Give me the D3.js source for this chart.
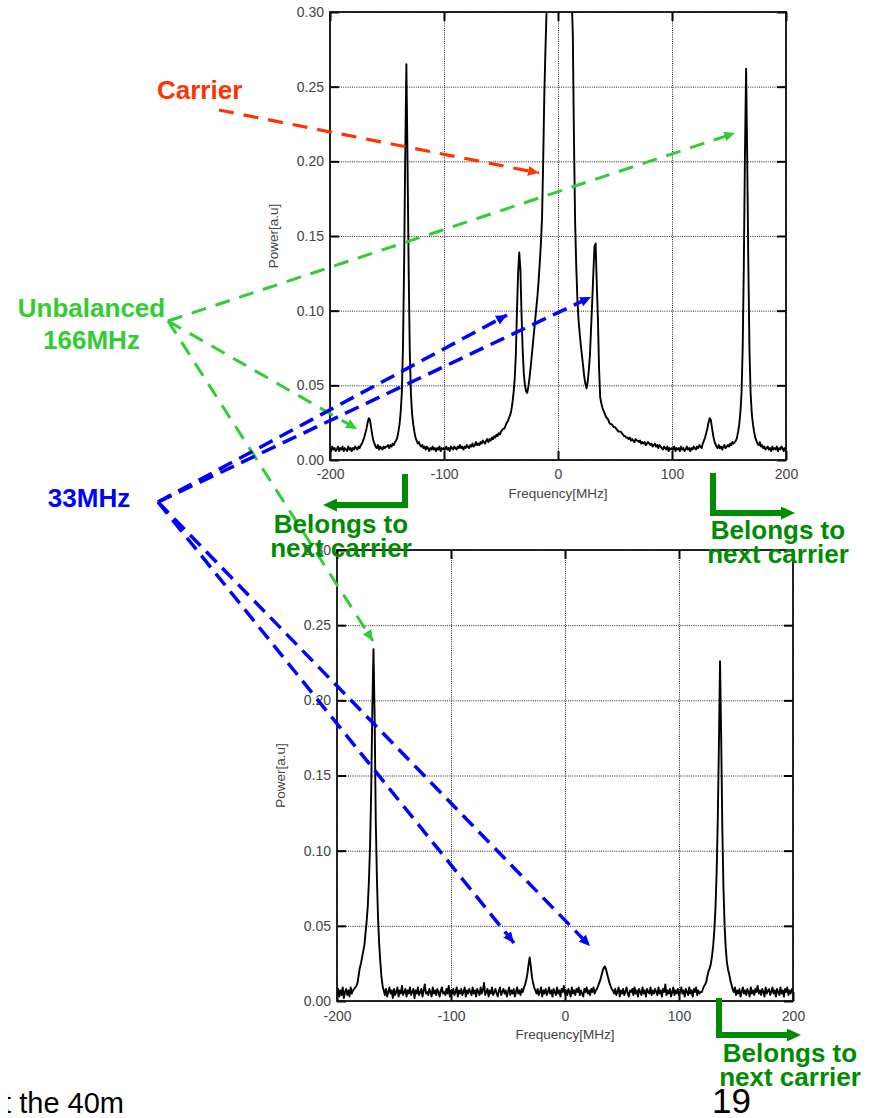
<!DOCTYPE html>
<html>
<head>
<meta charset="utf-8">
<script src="https://cdn.jsdelivr.net/npm/d3@7"></script>
<style>
  body { margin: 0; background: #fff; }
  svg { display: block; }
</style>
</head>
<body>
<div id="main"></div>
<script>
// measured spectra, power in thousandths of a.u., one value per MHz from -200 to 200
var topPower = [
  8, 6, 9, 7, 8, 6, 7, 9, 6, 8,
  7, 9, 6, 8, 7, 6, 9, 7, 8, 6,
  8, 7, 9, 8, 7, 9, 8, 10, 11, 13,
  15, 18, 21, 25, 28, 27, 22, 17, 13, 11,
  9, 8, 10, 7, 9, 8, 7, 9, 8, 9,
  9, 10, 8, 10, 9, 11, 10, 12, 13, 15,
  19, 24, 32, 45, 75, 130, 205, 265, 200, 128,
  72, 44, 31, 24, 19, 15, 13, 11, 12, 10,
  9, 10, 8, 9, 7, 9, 8, 6, 8, 7,
  9, 7, 8, 6, 8, 7, 9, 6, 8, 7,
  8, 7, 9, 7, 8, 6, 9, 8, 7, 9,
  8, 7, 9, 8, 10, 8, 9, 7, 9, 8,
  10, 9, 8, 10, 9, 11, 9, 10, 12, 10,
  11, 10, 12, 11, 13, 12, 11, 13, 14, 12,
  14, 13, 15, 14, 16, 15, 17, 16, 18, 17,
  19, 20, 21, 21, 23, 25, 26, 28, 30, 33,
  38, 45, 54, 70, 100, 125, 139, 128, 98, 74,
  58, 50, 46, 45, 49, 55, 62, 70, 78, 86,
  94, 102, 110, 120, 132, 145, 162, 200, 245, 275,
  302, 340, 390, 450, 520, 600, 700, 800, 900, 980,
  1000, 990, 950, 880, 800, 720, 640, 560, 490, 430,
  380, 340, 310, 285, 215, 160, 130, 108, 94, 85,
  77, 70, 63, 56, 51, 48, 52, 60, 70, 88,
  106, 125, 143, 145, 118, 95, 62, 42, 38, 35,
  33, 31, 29, 28, 27, 25, 24, 24, 23, 22,
  22, 21, 20, 19, 19, 19, 18, 17, 16, 16,
  15, 15, 14, 15, 13, 14, 13, 12, 14, 13,
  13, 12, 13, 11, 12, 11, 12, 10, 11, 12,
  11, 10, 11, 9, 10, 11, 9, 10, 8, 10,
  9, 8, 7, 9, 8, 7, 9, 6, 8, 7,
  8, 7, 9, 6, 8, 7, 8, 6, 9, 7,
  8, 6, 7, 9, 7, 8, 6, 8, 7, 9,
  8, 7, 9, 8, 10, 9, 8, 11, 13, 15,
  18, 21, 25, 28, 27, 22, 17, 13, 11, 9,
  8, 10, 8, 9, 7, 9, 10, 8, 9, 10,
  9, 11, 10, 12, 11, 12, 13, 15, 19, 24,
  32, 45, 75, 130, 205, 262, 200, 128, 72, 44,
  31, 24, 19, 15, 13, 11, 10, 12, 9, 10,
  8, 9, 7, 8, 9, 7, 8, 6, 9, 7,
  8, 7, 9, 6, 8, 7, 9, 8, 6, 8, 7
];
var bottomPower = [
  5, 8, 3, 7, 4, 9, 2, 6, 8, 4,
  7, 3, 9, 5, 7, 8, 9, 10, 12, 17,
  22, 25, 29, 33, 37, 45, 53, 63, 80, 103,
  140, 195, 234, 190, 120, 82, 55, 38, 26, 16,
  10, 7, 4, 8, 3, 6, 9, 5, 7, 2,
  8, 4, 6, 9, 3, 7, 5, 10, 4, 6,
  8, 3, 7, 5, 9, 4, 6, 8, 2, 7,
  5, 9, 4, 6, 8, 3, 7, 11, 5, 6,
  4, 8, 6, 3, 9, 5, 7, 4, 8, 6,
  3, 7, 9, 5, 6, 4, 8, 5, 10, 3,
  7, 5, 8, 4, 6, 9, 3, 7, 5, 8,
  4, 6, 9, 3, 7, 5, 8, 6, 4, 9,
  5, 7, 3, 8, 6, 4, 9, 5, 7, 12,
  4, 6, 8, 3, 7, 5, 9, 4, 6, 8,
  5, 3, 7, 9, 4, 6, 8, 5, 7, 3,
  6, 9, 4, 7, 5, 8, 3, 6, 9, 5,
  7, 4, 8, 6, 9, 11, 14, 18, 24, 29,
  23, 16, 12, 9, 7, 5, 8, 4, 6, 9,
  3, 7, 5, 8, 4, 6, 9, 5, 7, 3,
  8, 6, 4, 9, 5, 7, 3, 8, 6, 10,
  5, 7, 4, 8, 6, 3, 9, 5, 7, 4,
  8, 6, 9, 4, 7, 5, 3, 8, 6, 9,
  5, 7, 4, 8, 6, 9, 5, 7, 8, 10,
  12, 14, 17, 20, 22, 23, 21, 18, 15, 12,
  10, 8, 7, 5, 8, 4, 6, 9, 3, 7,
  5, 8, 4, 6, 9, 5, 3, 7, 6, 8,
  4, 9, 5, 7, 3, 8, 6, 4, 9, 5,
  7, 3, 8, 6, 5, 9, 4, 7, 5, 8,
  6, 4, 9, 5, 7, 3, 8, 6, 11, 4,
  7, 5, 8, 3, 6, 9, 4, 7, 5, 8,
  4, 6, 9, 5, 7, 3, 8, 6, 4, 9,
  5, 7, 3, 8, 6, 9, 4, 7, 5, 6,
  6, 8, 10, 11, 13, 17, 20, 22, 25, 30,
  37, 47, 62, 85, 120, 170, 226, 175, 115, 75,
  50, 35, 26, 21, 18, 14, 11, 8, 6, 9,
  4, 7, 5, 8, 3, 6, 9, 5, 7, 4,
  8, 6, 3, 9, 5, 7, 4, 8, 6, 10,
  5, 7, 4, 8, 6, 3, 9, 5, 7, 8,
  4, 6, 9, 5, 7, 3, 8, 6, 4, 9,
  5, 7, 3, 8, 6, 9, 4, 7, 5, 8, 6
];
var freqs = d3.range(-200, 201);           // MHz
var xTicks = [-200, -100, 0, 100, 200];
var yTicks = [0, 0.05, 0.10, 0.15, 0.20, 0.25, 0.30];

var font = "'Liberation Sans', Arial, Helvetica, sans-serif";
var W = 872, H = 1118;

var svg = d3.select("#main").append("svg")
    .attr("width", W)
    .attr("height", H);

var defs = svg.append("defs");

function arrowMarker(id, color, len, wid) {
  defs.append("marker")
      .attr("id", id)
      .attr("markerUnits", "userSpaceOnUse")
      .attr("viewBox", "0 0 " + len + " " + wid)
      .attr("refX", len)
      .attr("refY", wid / 2)
      .attr("markerWidth", len)
      .attr("markerHeight", wid)
      .attr("orient", "auto")
      .append("path")
      .attr("d", "M0,0L" + len + "," + (wid / 2) + "L0," + wid + "Z")
      .attr("fill", color);
}
var red = "#ff3300", lime = "#33cc33", blue = "#0000ff", dkgreen = "#008c00";
arrowMarker("headRed", red, 11, 10);
arrowMarker("headLime", lime, 11, 10);
arrowMarker("headBlue", blue, 11, 10);
// thick L arrows: head starts where the path ends
defs.append("marker")
    .attr("id", "headDk")
    .attr("markerUnits", "userSpaceOnUse")
    .attr("viewBox", "0 0 14 13")
    .attr("refX", 0).attr("refY", 6.5)
    .attr("markerWidth", 14).attr("markerHeight", 13)
    .attr("orient", "auto")
    .append("path").attr("d", "M0,0L14,6.5L0,13Z").attr("fill", dkgreen);

var panels = [
  { name: "top", values: topPower, left: 330, right: 786, top: 12, bottom: 460, tickPad: 9 },
  { name: "bottom", values: bottomPower, left: 337, right: 793, top: 550, bottom: 1001, tickPad: 10 }
];

panels.forEach(function(p) {
  var x = d3.scaleLinear().domain([-200, 200]).range([p.left, p.right]);
  var y = d3.scaleLinear().domain([0, 0.3]).range([p.bottom, p.top]);
  var g = svg.append("g");
  var h = p.bottom - p.top, w = p.right - p.left;

  // dotted grid
  g.append("g")
      .attr("transform", "translate(0," + p.bottom + ")")
      .call(d3.axisBottom(x).tickValues(xTicks).tickSize(-h).tickFormat(""))
      .call(function(s) { s.select(".domain").remove(); })
      .selectAll("line").attr("stroke", "#222").attr("stroke-dasharray", "1,1.2");
  g.append("g")
      .attr("transform", "translate(" + p.left + ",0)")
      .call(d3.axisLeft(y).tickValues(yTicks).tickSize(-w).tickFormat(""))
      .call(function(s) { s.select(".domain").remove(); })
      .selectAll("line").attr("stroke", "#222").attr("stroke-dasharray", "1,1.2");

  // inward tick marks on all four sides
  var inner = [
    [d3.axisBottom(x).tickValues(xTicks), "translate(0," + p.bottom + ")"],
    [d3.axisTop(x).tickValues(xTicks), "translate(0," + p.top + ")"],
    [d3.axisLeft(y).tickValues(yTicks), "translate(" + p.left + ",0)"],
    [d3.axisRight(y).tickValues(yTicks), "translate(" + p.right + ",0)"]
  ];
  inner.forEach(function(a) {
    g.append("g").attr("transform", a[1])
        .call(a[0].tickSize(-9).tickFormat(""))
        .call(function(s) { s.select(".domain").remove(); })
        .selectAll("line").attr("stroke", "#000").attr("stroke-width", 2);
  });

  // spectrum
  var clipId = "clip-" + p.name;
  defs.append("clipPath").attr("id", clipId)
      .append("rect").attr("x", p.left).attr("y", p.top).attr("width", w).attr("height", h);
  var line = d3.line()
      .x(function(d, i) { return x(freqs[i]); })
      .y(function(d) { return y(d / 1000); });
  g.append("path")
      .datum(p.values)
      .attr("clip-path", "url(#" + clipId + ")")
      .attr("d", line)
      .attr("fill", "none")
      .attr("stroke", "#000")
      .attr("stroke-width", 1.9)
      .attr("stroke-linejoin", "round");

  // frame
  g.append("rect")
      .attr("x", p.left).attr("y", p.top).attr("width", w).attr("height", h)
      .attr("fill", "none").attr("stroke", "#111").attr("stroke-width", 1.8);

  // tick labels
  var yl = g.append("g")
      .attr("transform", "translate(" + p.left + ",0)")
      .call(d3.axisLeft(y).tickValues(yTicks).tickSize(0).tickPadding(6).tickFormat(d3.format(".2f")));
  var xl = g.append("g")
      .attr("transform", "translate(0," + p.bottom + ")")
      .call(d3.axisBottom(x).tickValues(xTicks).tickSize(0).tickPadding(p.tickPad).tickFormat(d3.format("d")));
  [yl, xl].forEach(function(s) {
    s.select(".domain").remove();
    s.selectAll("text").attr("font-family", font).attr("font-size", 14).attr("fill", "#444");
  });
  // minus sign as plain hyphen like the original
  xl.selectAll("text").text(function(d) { return String(d); });

  g.append("text")
      .attr("x", (p.left + p.right) / 2)
      .attr("y", p.bottom + 38)
      .attr("text-anchor", "middle")
      .attr("font-family", font).attr("font-size", 13.5).attr("fill", "#444")
      .text("Frequency[MHz]");
  g.append("text")
      .attr("transform", "translate(" + (p.left - 52) + "," + ((p.top + p.bottom) / 2) + ") rotate(-90)")
      .attr("text-anchor", "middle")
      .attr("font-family", font).attr("font-size", 13.5).attr("fill", "#444")
      .text("Power[a.u]");
});

// dashed pointer arrows
var pointers = [
  { from: [219, 110], to: [539, 173], color: red, head: "headRed", width: 3.2, dash: "15,10" },
  { from: [168, 321], to: [735, 133], color: lime, head: "headLime", width: 3, dash: "15,10" },
  { from: [168, 321], to: [357, 429], color: lime, head: "headLime", width: 3, dash: "15,10" },
  { from: [168, 321], to: [373, 641], color: lime, head: "headLime", width: 3, dash: "15,10" },
  { from: [158, 502], to: [507, 315], color: blue, head: "headBlue", width: 3.5, dash: "15,8" },
  { from: [158, 502], to: [591, 297], color: blue, head: "headBlue", width: 3.5, dash: "15,8" },
  { from: [158, 502], to: [514, 943], color: blue, head: "headBlue", width: 3.5, dash: "15,8" },
  { from: [158, 502], to: [590, 946], color: blue, head: "headBlue", width: 3.5, dash: "15,8" }
];
svg.append("g").selectAll("line")
    .data(pointers)
    .enter()
    .append("line")
    .attr("x1", function(d) { return d.from[0]; })
    .attr("y1", function(d) { return d.from[1]; })
    .attr("x2", function(d) { return d.to[0]; })
    .attr("y2", function(d) { return d.to[1]; })
    .attr("stroke", function(d) { return d.color; })
    .attr("stroke-width", function(d) { return d.width; })
    .attr("stroke-dasharray", function(d) { return d.dash; })
    .attr("marker-end", function(d) { return "url(#" + d.head + ")"; });

// "belongs to next carrier" L-shaped arrows
var elbows = [
  [[405, 474], [405, 505], [337, 505]],
  [[713, 473], [713, 513], [781, 513]],
  [[719, 998], [719, 1035], [787, 1035]]
];
svg.append("g").selectAll("path")
    .data(elbows)
    .enter()
    .append("path")
    .attr("d", function(d) { return d3.line()(d); })
    .attr("fill", "none")
    .attr("stroke", dkgreen)
    .attr("stroke-width", 6)
    .attr("stroke-linejoin", "miter")
    .attr("marker-end", "url(#headDk)");

// labels
var labels = [
  { t: "Carrier", x: 157, y: 99, c: red, a: "start" },
  { t: "Unbalanced", x: 91.5, y: 317, c: lime, a: "middle" },
  { t: "166MHz", x: 91.5, y: 349, c: lime, a: "middle" },
  { t: "33MHz", x: 89, y: 507, c: blue, a: "middle" },
  { t: "Belongs to", x: 341, y: 533, c: dkgreen, a: "middle" },
  { t: "next carrier", x: 341, y: 557, c: dkgreen, a: "middle" },
  { t: "Belongs to", x: 778, y: 539, c: dkgreen, a: "middle" },
  { t: "next carrier", x: 778, y: 563, c: dkgreen, a: "middle" },
  { t: "Belongs to", x: 790, y: 1062, c: dkgreen, a: "middle" },
  { t: "next carrier", x: 790, y: 1086, c: dkgreen, a: "middle" }
];
svg.append("g").selectAll("text")
    .data(labels)
    .enter()
    .append("text")
    .attr("x", function(d) { return d.x; })
    .attr("y", function(d) { return d.y; })
    .attr("text-anchor", function(d) { return d.a; })
    .attr("fill", function(d) { return d.c; })
    .attr("font-family", font)
    .attr("font-weight", "bold")
    .attr("font-size", 26)
    .text(function(d) { return d.t; });

// slide footer
defs.append("clipPath").attr("id", "footClip")
    .append("rect").attr("x", 8).attr("y", 1080).attr("width", 200).attr("height", 40);
svg.append("text")
    .attr("clip-path", "url(#footClip)")
    .attr("x", 124).attr("y", 1113)
    .attr("text-anchor", "end")
    .attr("font-family", font).attr("font-size", 29).attr("fill", "#000")
    .text("t the 40m");
svg.append("text")
    .attr("x", 712).attr("y", 1113)
    .attr("font-family", font).attr("font-size", 35).attr("fill", "#000")
    .text("19");
</script>
</body>
</html>
